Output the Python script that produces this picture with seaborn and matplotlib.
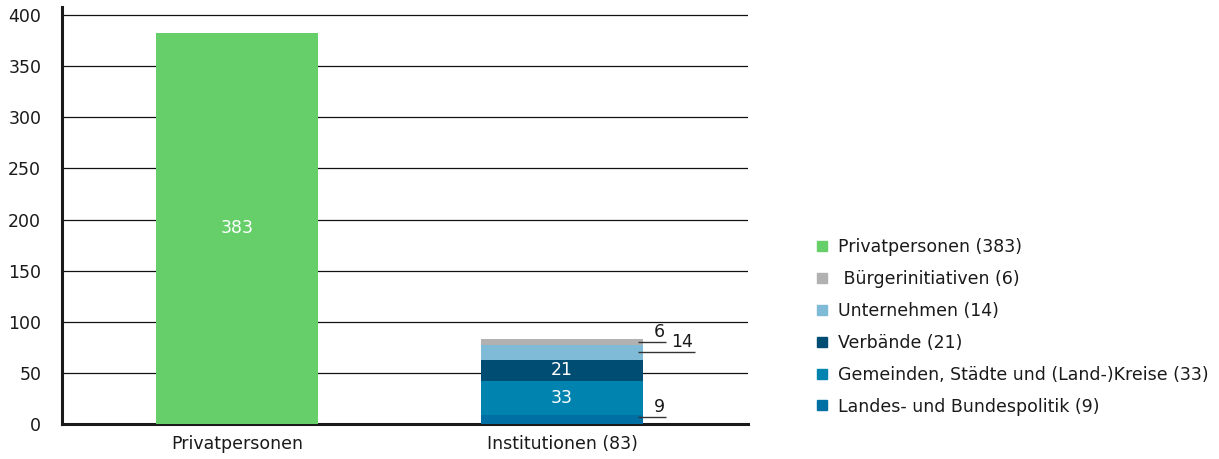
import matplotlib
matplotlib.use("Agg")
import matplotlib.pyplot as plt
import seaborn as sns
import pandas as pd
from matplotlib.lines import Line2D

# ── Data ──────────────────────────────────────────────────────
categories = ["Privatpersonen", "Institutionen (83)"]
private_value = 383
segments = ["Landes- und Bundespolitik", "Gemeinden, Städte und (Land-)Kreise",
            "Verbände", "Unternehmen", "Bürgerinitiativen"]
segment_values = [9, 33, 21, 14, 6]
segment_colors = ["#0070A4", "#0083AE", "#004D73", "#7FBAD6", "#B1B1B1"]
green = "#66CF6A"
legend_labels = ["Privatpersonen (383)", " Bürgerinitiativen (6)", "Unternehmen (14)",
                 "Verbände (21)", "Gemeinden, Städte und (Land-)Kreise (33)",
                 "Landes- und Bundespolitik (9)"]
legend_colors = [green, "#B1B1B1", "#7FBAD6", "#004D73", "#0083AE", "#0070A4"]
y_ticks = [0, 50, 100, 150, 200, 250, 300, 350, 400]

sns.set_style("white")
plt.rcParams["font.family"] = ["DejaVu Sans"]
txt = "#1a1a1a"
fs = 12.5

fig = plt.figure(figsize=(12.19, 4.59), dpi=100)
ax = fig.add_axes([0.0509, 0.0763, 0.5627, 0.9085])

# cumulative tops, drawn largest first so smaller ones sit on top
tops = []
run = 0
for v in segment_values:
    run += v
    tops.append(run)

df_priv = pd.DataFrame({"cat": [categories[0]], "val": [private_value]})
sns.barplot(data=df_priv, x="cat", y="val", order=categories, color=green,
            width=0.5, saturation=1, linewidth=0, ax=ax, zorder=3)
for top, col in reversed(list(zip(tops, segment_colors))):
    d = pd.DataFrame({"cat": [categories[1]], "val": [top]})
    sns.barplot(data=d, x="cat", y="val", order=categories, color=col,
                width=0.5, saturation=1, linewidth=0, ax=ax, zorder=3)

ax.set_xlim(-0.538, 1.572)
ax.set_ylim(0, 408)
ax.set_yticks(y_ticks)
ax.set_yticklabels([str(t) for t in y_ticks], fontsize=fs, color=txt)
ax.set_xlabel(""); ax.set_ylabel("")
ax.set_xticks([0, 1])
ax.set_xticklabels(categories, fontsize=fs, color=txt)
ax.set_xticks([0.5], minor=True)
ax.tick_params(axis="x", which="major", length=0, pad=8)
ax.tick_params(axis="x", which="minor", length=5, width=1.5, color=txt, direction="out")
ax.tick_params(axis="y", length=7, width=1, color=txt, pad=8, direction="out")
ax.grid(axis="y", color="#111111", linewidth=0.9, zorder=0)
ax.set_axisbelow(True)
for s in ["top", "right"]:
    ax.spines[s].set_visible(False)
ax.spines["left"].set_linewidth(2.2)
ax.spines["left"].set_color(txt)
ax.spines["bottom"].set_linewidth(2.2)
ax.spines["bottom"].set_color(txt)

# value labels
ax.text(0, private_value / 2, str(private_value), color="white", fontsize=fs,
        ha="center", va="center", zorder=5)
bottoms = [t - v for t, v in zip(tops, segment_values)]
for i in (1, 2):
    ax.text(1, bottoms[i] + segment_values[i] / 2, str(segment_values[i]), color="white",
            fontsize=fs, ha="center", va="center", zorder=5)

# leader lines for small segments
callouts = [(0, 1.32, 1.30), (3, 1.41, 1.37), (4, 1.32, 1.30)]
line_y = {0: 6.5, 3: 70.5, 4: 80.5}
for idx, x_end, x_txt in callouts:
    y = line_y[idx]
    ax.plot([1.235, x_end], [y, y], color="#333333", linewidth=1, zorder=5,
            solid_capstyle="butt")
    ax.text(x_txt, y + 1, str(segment_values[idx]), fontsize=fs, color=txt,
            ha="center", va="bottom", zorder=5)

handles = [Line2D([0], [0], marker="s", linestyle="", markersize=7,
                  markerfacecolor=c, markeredgecolor=c) for c in legend_colors]
fig.legend(handles, legend_labels, loc="center left", bbox_to_anchor=(0.655, 0.288),
           frameon=False, fontsize=fs, labelspacing=0.8, handlelength=0.9,
           handletextpad=0.5, labelcolor=txt)

plt.savefig("out.png", dpi=100)
plt.close()
